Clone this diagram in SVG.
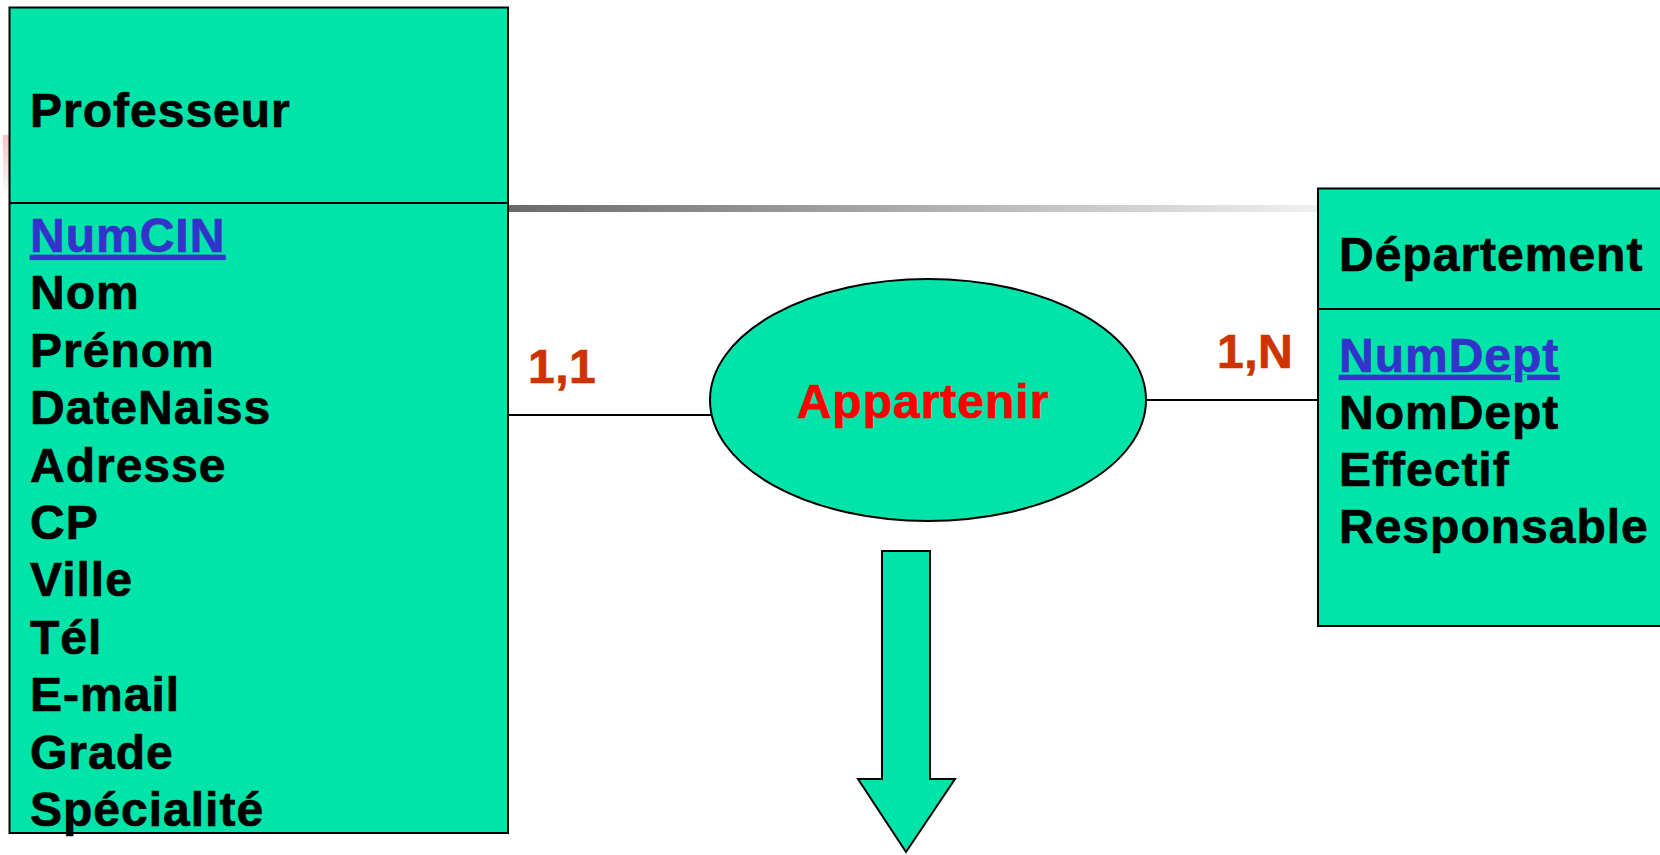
<svg xmlns="http://www.w3.org/2000/svg" width="1660" height="855" viewBox="0 0 1660 855">
  <defs>
    <linearGradient id="grayLine" x1="0" y1="0" x2="1" y2="0">
      <stop offset="0" stop-color="#6a6a6a"/>
      <stop offset="1" stop-color="#f0f0f0"/>
    </linearGradient>
    <linearGradient id="pinkStrip" x1="0" y1="0" x2="0" y2="1">
      <stop offset="0" stop-color="#f7c4c4"/>
      <stop offset="1" stop-color="#ffffff"/>
    </linearGradient>
  </defs>
  <style>
    .box { fill: #00e4aa; stroke: #000; stroke-width: 2; }
    .sep { stroke: #000; stroke-width: 2; }
    .conn { stroke: #000; stroke-width: 2; fill: none; }
    .t { font-family: "Liberation Sans", Arial, sans-serif; font-weight: bold; font-size: 48px; fill: #000; stroke: #000; stroke-width: 0.7px; letter-spacing: 1px; }
    .key { fill: #3333cc; stroke: #3333cc; text-decoration: underline; }
    .card { fill: #cc3300; stroke: #cc3300; letter-spacing: 0.5px; }
    .rel { fill: #ff0000; stroke: #ff0000; }
  </style>
  <rect width="1660" height="855" fill="#ffffff"/>
  <rect x="3" y="135" width="6" height="62" fill="url(#pinkStrip)"/>

  <g id="connectors">
    <rect x="508" y="205" width="810" height="7" fill="url(#grayLine)"/>
    <line class="conn" x1="508" y1="415" x2="712" y2="415"/>
    <line class="conn" x1="1146" y1="400" x2="1318" y2="400"/>
  </g>

  <g id="professeur">
    <rect class="box" x="9.5" y="7.5" width="498.5" height="825.5"/>
    <line class="sep" x1="9.5" y1="203" x2="508" y2="203"/>
    <text class="t" x="30" y="127">Professeur</text>
    <text class="t key" x="30" y="252">NumCIN</text>
    <text class="t" x="30" y="309">Nom</text>
    <text class="t" x="30" y="367">Prénom</text>
    <text class="t" x="30" y="424">DateNaiss</text>
    <text class="t" x="30" y="482">Adresse</text>
    <text class="t" x="30" y="539">CP</text>
    <text class="t" x="30" y="596">Ville</text>
    <text class="t" x="30" y="654">Tél</text>
    <text class="t" x="30" y="711">E-mail</text>
    <text class="t" x="30" y="769">Grade</text>
    <text class="t" x="30" y="826">Spécialité</text>
  </g>

  <g id="departement">
    <rect class="box" x="1318" y="188.5" width="360" height="437.5"/>
    <line class="sep" x1="1318" y1="309" x2="1680" y2="309"/>
    <text class="t" x="1339" y="271">Département</text>
    <text class="t key" x="1339" y="372">NumDept</text>
    <text class="t" x="1339" y="429">NomDept</text>
    <text class="t" x="1339" y="486">Effectif</text>
    <text class="t" x="1339" y="543">Responsable</text>
  </g>

  <g id="appartenir">
    <ellipse class="box" cx="928" cy="400" rx="218" ry="121"/>
    <text class="t rel" x="923" y="418" text-anchor="middle">Appartenir</text>
  </g>

  <g id="card-1-1">
    <text class="t card" x="528" y="383">1,1</text>
  </g>
  <g id="card-1-N">
    <text class="t card" x="1217" y="368">1,N</text>
  </g>

  <g id="down-arrow">
    <polygon class="box" points="882,551 930,551 930,779 955,779 906,852 858,779 882,779"/>
  </g>
</svg>
